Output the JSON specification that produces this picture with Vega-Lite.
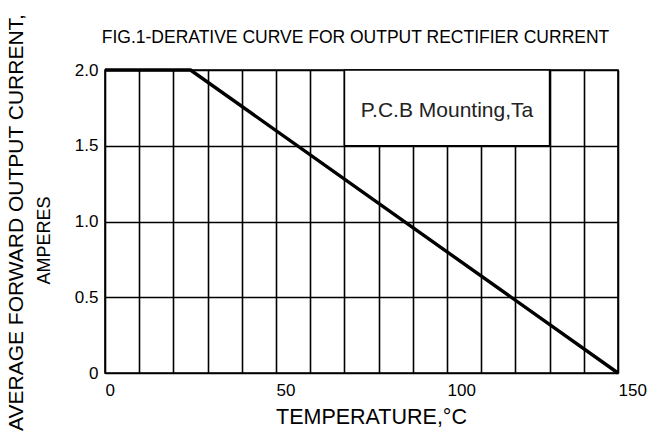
{
  "$schema": "https://vega.github.io/schema/vega-lite/v6.json",
  "width": 513,
  "height": 303,
  "autosize": "none",
  "padding": {"left": 105, "top": 70, "right": 33, "bottom": 68},
  "background": "white",
  "title": {
    "text": "FIG.1-DERATIVE CURVE FOR OUTPUT RECTIFIER CURRENT",
    "font": "Liberation Sans",
    "fontSize": 17.5,
    "fontWeight": "normal",
    "color": "black",
    "offset": -33,
    "dx": -6
  },
  "config": {
    "view": {"stroke": "black", "strokeWidth": 1.6},
    "axis": {
      "labelFont": "Liberation Sans",
      "labelFontSize": 17,
      "labelColor": "black",
      "titleFont": "Liberation Sans",
      "titleFontWeight": "normal",
      "titleColor": "black",
      "gridColor": "black",
      "gridOpacity": 1,
      "gridWidth": 1.6,
      "domain": false,
      "ticks": false
    }
  },
  "encoding": {
    "x": {
      "field": "t", "type": "quantitative",
      "scale": {"domain": [0, 150], "nice": false, "zero": false},
      "axis": {
        "values": [0, 10, 20, 30, 40, 50, 60, 70, 80, 90, 100, 110, 120, 130, 140, 150],
        "labelExpr": "datum.value % 50 == 0 ? datum.label : ''",
        "labelAlign": "left",
        "labelPadding": 9,
        "labelFlush": false,
        "title": "TEMPERATURE,°C",
        "titleFontSize": 21.5,
        "titleX": 266,
        "titlePadding": 8
      }
    }
  },
  "layer": [
    {
      "data": {"values": [{"t": 0, "a": 2}, {"t": 25, "a": 2}, {"t": 150, "a": 0}]},
      "mark": {"type": "line", "color": "black", "strokeWidth": 3.4},
      "encoding": {
        "y": {
          "field": "a", "type": "quantitative",
          "scale": {"domain": [0, 2], "nice": false},
          "axis": {
            "values": [0, 0.5, 1, 1.5, 2],
            "labelExpr": "datum.value == 0 ? '0' : format(datum.value, '.1f')",
            "labelPadding": 7,
            "labelFlush": false,
            "title": "AVERAGE FORWARD OUTPUT CURRENT,",
            "titleFontSize": 21,
            "titleX": -89,
            "titleY": 152,
            "titleBaseline": "middle",
            "titleAlign": "center"
          }
        }
      }
    },
    {
      "data": {"values": [{"t": 70, "t2": 130, "a": 1.5, "a2": 2.0}]},
      "mark": {"type": "rect", "fill": "white", "stroke": "black", "strokeWidth": 1.6},
      "encoding": {
        "x2": {"field": "t2"},
        "y": {
          "field": "a", "type": "quantitative",
          "axis": {
            "orient": "left",
            "title": "AMPERES",
            "titleFontSize": 18,
            "titleX": -61,
            "titleY": 170,
            "titleBaseline": "middle",
            "titleAlign": "center",
            "labels": false,
            "grid": false,
            "values": []
          }
        },
        "y2": {"field": "a2"}
      }
    },
    {
      "data": {"values": [{"t": 100, "a": 1.73, "label": "P.C.B Mounting,Ta"}]},
      "mark": {"type": "text", "font": "Liberation Sans", "fontSize": 21, "color": "#222", "align": "center", "baseline": "middle"},
      "encoding": {
        "y": {"field": "a", "type": "quantitative", "axis": null},
        "text": {"field": "label"}
      }
    }
  ],
  "resolve": {"axis": {"y": "independent"}}
}
